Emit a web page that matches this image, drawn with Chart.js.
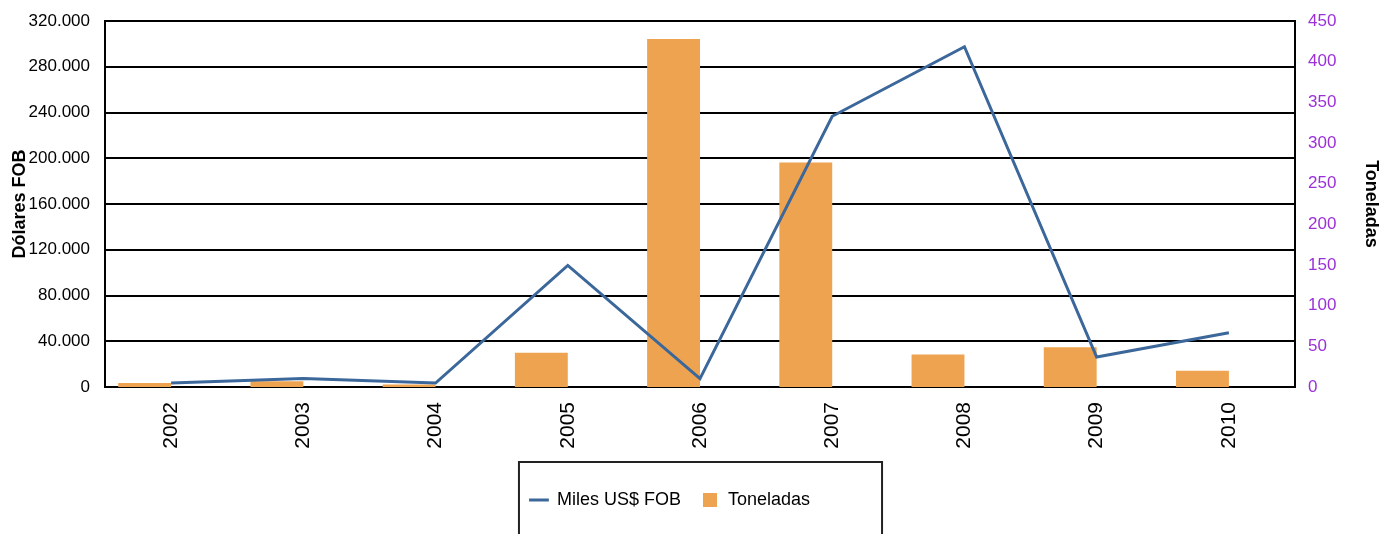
<!DOCTYPE html>
<html>
<head>
<meta charset="utf-8">
<script src="https://cdn.jsdelivr.net/npm/chart.js@4.4.0/dist/chart.umd.min.js"></script>
<style>
  html, body { margin: 0; padding: 0; background: #fff; }
  #wrap { width: 1380px; height: 534px; }
</style>
</head>
<body>
<div id="wrap"><canvas id="exportCanvas" width="1380" height="534"></canvas></div>
<script>
const years = [2002, 2003, 2004, 2005, 2006, 2007, 2008, 2009, 2010];
const milesFob = [3500, 7400, 3500, 106300, 7300, 236700, 297500, 26200, 47500];
const toneladas = [5, 7, 3, 42, 428, 276, 40, 49, 20];

Chart.defaults.font.family = "'Liberation Sans', Arial, sans-serif";

// 320000 -> "320.000"
const fmt = v => String(v).replace(/\B(?=(\d{3})+(?!\d))/g, '.');

// legend sits a bit left of centre in the original, plus a frame round it
const legendBox = {
    id: 'legendBox',
    afterUpdate(chart) {
        const lg = chart.legend;
        if (!lg) return;
        lg.right -= 40;
        lg.adjustHitBoxes();
    },
    afterDraw(chart) {
        const lg = chart.legend;
        if (!lg || !lg.legendHitBoxes || !lg.legendHitBoxes.length) return;
        const hb = lg.legendHitBoxes;
        const first = hb[0], last = hb[hb.length - 1];
        const left = first.left - 11;
        const right = last.left + last.width + 72;
        const c = chart.ctx;
        c.save();
        c.strokeStyle = '#222';
        c.lineWidth = 2;
        c.strokeRect(left, lg.top - 9, right - left, 120);
        c.restore();
    }
};

const ctx = document.getElementById('exportCanvas').getContext('2d');

new Chart(ctx, {
    type: 'bar',
    data: {
        labels: years,
        datasets: [
            {
                type: 'line',
                label: 'Miles US$ FOB',
                data: milesFob,
                yAxisID: 'y',
                borderColor: '#3B679B',
                backgroundColor: '#3B679B',
                borderWidth: 3,
                pointRadius: 0,
                pointStyle: 'line',
                tension: 0,
                order: 0
            },
            {
                type: 'bar',
                label: 'Toneladas',
                data: toneladas,
                yAxisID: 'y1',
                backgroundColor: '#EEA350',
                borderWidth: 0,
                categoryPercentage: 0.8,
                barPercentage: 1,
                pointStyle: 'rect',
                order: 1
            },
            {
                // empty slot so the bars sit left of the year tick, as in excel
                type: 'bar',
                label: '',
                data: years.map(() => null),
                yAxisID: 'y1',
                categoryPercentage: 0.8,
                barPercentage: 1,
                order: 2
            }
        ]
    },
    options: {
        responsive: false,
        animation: false,
        layout: { padding: { top: 21, bottom: 15, left: 0, right: 0 } },
        plugins: {
            legend: {
                position: 'bottom',
                labels: {
                    usePointStyle: true, boxHeight: 14, font: { size: 18 }, color: '#000', padding: 20,
                    filter: item => item.text !== ''
                }
            },
            tooltip: { enabled: false }
        },
        scales: {
            x: {
                type: 'category',
                offset: true,
                grid: { display: false, drawTicks: false },
                border: { display: true, color: '#000', width: 2 },
                ticks: { minRotation: 90, maxRotation: 90, font: { size: 21 }, color: '#000', padding: 15 },
                afterFit(s) { s.height = 84; }
            },
            y: {
                position: 'left',
                min: 0,
                max: 320000,
                ticks: { stepSize: 40000, callback: v => fmt(v), font: { size: 17 }, color: '#000', padding: 15 },
                grid: { color: '#000', lineWidth: 2, drawTicks: false },
                border: { color: '#000', width: 2 },
                title: {
                    display: true, text: 'Dólares FOB', color: '#000',
                    font: { size: 18, weight: 'bold', lineHeight: 1 },
                    padding: { top: 11, bottom: 0 }
                },
                afterFit(s) { s.width = 105; s.paddingTop = 0; }
            },
            y1: {
                position: 'right',
                min: 0,
                max: 450,
                ticks: { stepSize: 50, font: { size: 17 }, color: '#9B30D9', padding: 13 },
                grid: { display: false, drawTicks: false },
                border: { color: '#000', width: 2 },
                title: {
                    display: true, text: 'Toneladas', color: '#000',
                    font: { size: 18, weight: 'bold', lineHeight: 1 },
                    padding: { top: 0, bottom: 0 }
                },
                afterFit(s) { s.width = 85; s.paddingTop = 0; }
            }
        }
    },
    plugins: [legendBox]
});
</script>
</body>
</html>
